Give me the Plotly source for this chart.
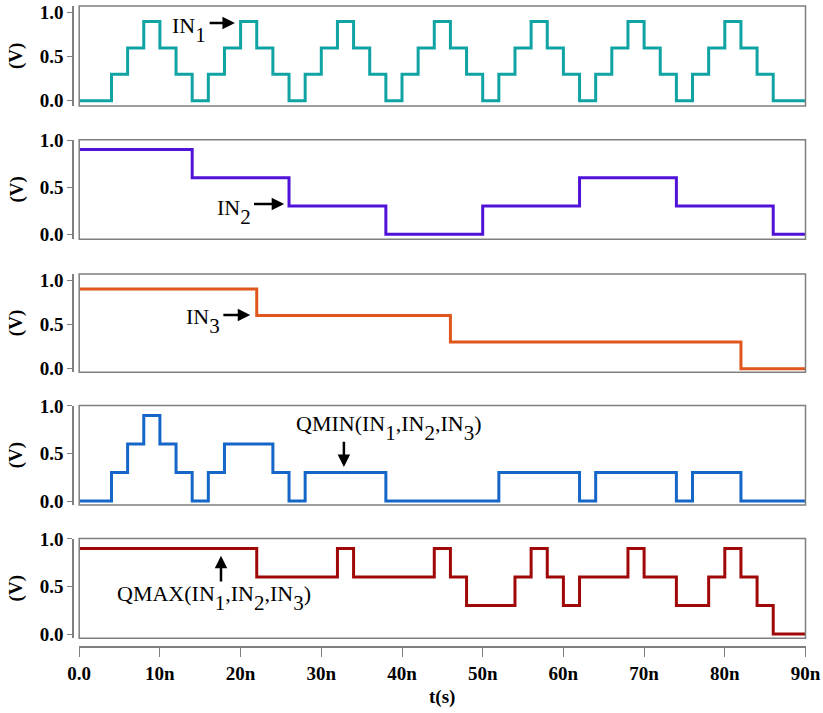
import plotly.graph_objects as go

# ---------------- data (time in ns, voltage in V) ----------------
t_in1 = [0, 4, 6, 8, 10, 12, 14, 16, 18, 20, 22, 24, 26, 28, 30, 32, 34, 36, 38, 40, 42, 44,
         46, 48, 50, 52, 54, 56, 58, 60, 62, 64, 66, 68, 70, 72, 74, 76, 78, 80, 82, 84, 86, 90]
v_in1 = [0, 0.3, 0.6, 0.9, 0.6, 0.3, 0, 0.3, 0.6, 0.9, 0.6, 0.3, 0, 0.3, 0.6, 0.9, 0.6, 0.3, 0, 0.3, 0.6, 0.9,
         0.6, 0.3, 0, 0.3, 0.6, 0.9, 0.6, 0.3, 0, 0.3, 0.6, 0.9, 0.6, 0.3, 0, 0.3, 0.6, 0.9, 0.6, 0.3, 0, 0]

t_in2 = [0, 14, 26, 38, 50, 62, 74, 86, 90]
v_in2 = [0.9, 0.6, 0.3, 0, 0.3, 0.6, 0.3, 0, 0]

t_in3 = [0, 22, 46, 82, 90]
v_in3 = [0.9, 0.6, 0.3, 0, 0]

t_qmin = [0, 4, 6, 8, 10, 12, 14, 16, 18, 24, 26, 28, 38, 52, 62, 64, 74, 76, 82, 90]
v_qmin = [0, 0.3, 0.6, 0.9, 0.6, 0.3, 0, 0.3, 0.6, 0.3, 0, 0.3, 0, 0.3, 0, 0.3, 0, 0.3, 0, 0]

t_qmax = [0, 22, 32, 34, 44, 46, 48, 54, 56, 58, 60, 62, 68, 70, 74, 78, 80, 82, 84, 86, 90]
v_qmax = [0.9, 0.6, 0.9, 0.6, 0.9, 0.6, 0.3, 0.6, 0.9, 0.6, 0.3, 0.6, 0.9, 0.6, 0.3, 0.6, 0.9, 0.6, 0.3, 0, 0]

x_tickvals = [0, 10, 20, 30, 40, 50, 60, 70, 80, 90]
x_ticktext = ["0.0", "10n", "20n", "30n", "40n", "50n", "60n", "70n", "80n", "90n"]
y_tickvals = [0, 0.5, 1.0]
y_ticktext = ["0.0", "0.5", "1.0"]

series = [
    (t_in1, v_in1, "#0fa3a3"),
    (t_in2, v_in2, "#5012d8"),
    (t_in3, v_in3, "#e0561c"),
    (t_qmin, v_qmin, "#1466c8"),
    (t_qmax, v_qmax, "#a00808"),
]

# ---------------- layout geometry ----------------
W, H = 823, 713
# (frame top px, frame bottom px, y range)
panels = [
    (6.0, 106.0, [-0.060, 1.076]),
    (139.7, 239.3, [-0.053, 1.004]),
    (274.0, 372.3, [-0.041, 1.068]),
    (405.5, 505.0, [-0.042, 1.005]),
    (538.5, 638.3, [-0.045, 1.005]),
]
x_dom = [79.2 / W, 805.5 / W]
yaxis_pos = 73.0 / W
xaxis_pos = (H - 646.7) / H

GRAY = "#7f7f7f"
SERIF = "Liberation Serif, Times New Roman, serif"
tickfont = dict(family=SERIF, size=19, color="black")

def b(s):
    return f"<b>{s}</b>"

def sub(d):
    return f"<span style='font-size:21px;baseline-shift:-9px'>{d}</span>"

fig = go.Figure()
layout = dict(
    width=W, height=H,
    margin=dict(l=0, r=0, t=0, b=0, autoexpand=False),
    paper_bgcolor="white", plot_bgcolor="white",
    showlegend=False,
)

shapes = []
annotations = []
for i, ((t, v, col), (ftop, fbot, yr)) in enumerate(zip(series, panels), start=1):
    xa = "x" if i == 1 else f"x{i}"
    ya = "y" if i == 1 else f"y{i}"
    fig.add_trace(go.Scatter(x=t, y=v, mode="lines", line=dict(color=col, width=3, shape="hv"),
                             xaxis=xa, yaxis=ya, hoverinfo="skip"))
    dom = [(H - fbot) / H, (H - ftop) / H]
    xkey = "xaxis" if i == 1 else f"xaxis{i}"
    ykey = "yaxis" if i == 1 else f"yaxis{i}"
    if i < 5:
        layout[xkey] = dict(domain=x_dom, range=[0, 90], anchor=ya, visible=False,
                            matches="x5", automargin=False)
    else:
        layout[xkey] = dict(domain=x_dom, range=[0, 90], anchor="free", position=xaxis_pos,
                            showline=True, linecolor=GRAY, linewidth=1.5,
                            ticks="outside", ticklen=10, tickcolor=GRAY, tickwidth=1.2,
                            tickvals=x_tickvals, ticktext=[b(s) for s in x_ticktext],
                            tickfont=tickfont, automargin=False,
                            showgrid=False, zeroline=False)
    layout[ykey] = dict(domain=dom, range=yr, anchor="free", position=yaxis_pos,
                        showline=True, linecolor=GRAY, linewidth=1.5,
                        ticks="outside", ticklen=5, tickcolor=GRAY, tickwidth=1.2,
                        tickvals=y_tickvals, ticktext=[b(s) for s in y_ticktext],
                        tickfont=tickfont, automargin=False,
                        showgrid=False, zeroline=False)
    shapes.append(dict(type="rect", xref=f"{xa} domain", yref=f"{ya} domain",
                       x0=0, x1=1, y0=0, y1=1, line=dict(color=GRAY, width=1.5),
                       layer="above"))
    annotations.append(dict(text=b("(V)"), xref="paper", yref="paper", x=16 / W,
                            y=(dom[0] + dom[1]) / 2, textangle=-90, showarrow=False,
                            font=dict(family=SERIF, size=19, color="black"),
                            xanchor="center", yanchor="middle"))

lab_font = dict(family=SERIF, size=22, color="black")

def label(text, xa, ya, x, y, xanchor):
    annotations.append(dict(text=text, xref=xa, yref=ya, x=x, y=y, showarrow=False,
                            font=lab_font, xanchor=xanchor, yanchor="middle"))

def arrow(xa, ya, x0, y0, x1, y1):
    annotations.append(dict(text="", xref=xa, yref=ya, axref=xa, ayref=ya,
                            ax=x0, ay=y0, x=x1, y=y1, showarrow=True,
                            font=dict(size=1), borderpad=0,
                            arrowhead=2, arrowsize=1.0, arrowwidth=2.5, arrowcolor="black"))

label("IN" + sub("1"), "x", "y", 16.0, 0.80, "right")
arrow("x", "y", 16.1, 0.883, 19.3, 0.883)

label("IN" + sub("2"), "x2", "y2", 21.5, 0.24, "right")
arrow("x2", "y2", 21.6, 0.321, 25.4, 0.321)

label("IN" + sub("3"), "x3", "y3", 17.7, 0.54, "right")
arrow("x3", "y3", 17.8, 0.605, 21.2, 0.605)

label("QMIN(IN" + sub("1") + ",IN" + sub("2") + ",IN" + sub("3") + ")", "x4", "y4", 38.3, 0.77, "center")
arrow("x4", "y4", 32.8, 0.63, 32.8, 0.358)

label("QMAX(IN" + sub("1") + ",IN" + sub("2") + ",IN" + sub("3") + ")", "x5", "y5", 16.7, 0.375, "center")
arrow("x5", "y5", 17.57, 0.547, 17.57, 0.824)

annotations.append(dict(text=b("t(s)"), xref="paper", yref="paper", x=442 / W, y=(H - 697) / H,
                        showarrow=False, xanchor="center", yanchor="middle",
                        font=dict(family=SERIF, size=19, color="black")))

layout["shapes"] = shapes
layout["annotations"] = annotations
fig.update_layout(**layout)
fig.write_html("out.html", config={"displayModeBar": False},
               post_script="document.body.style.margin='0px';document.body.style.padding='0px';")
